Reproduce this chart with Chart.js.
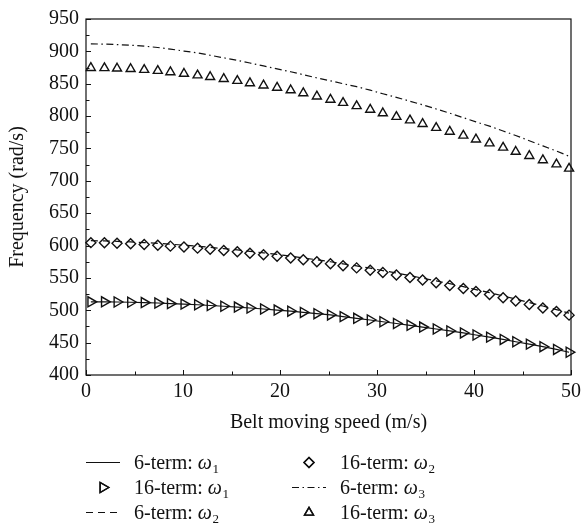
<!DOCTYPE html>
<html>
<head>
<meta charset="utf-8">
<title>Natural frequency vs belt moving speed</title>
<script src="https://cdn.jsdelivr.net/npm/chart.js@4.4.1/dist/chart.umd.min.js"></script>
<style>
  html, body { margin: 0; padding: 0; background: #fff; }
  #wrap { width: 586px; height: 529px; }
</style>
</head>
<body>
<div id="wrap"><canvas id="freqChart" width="586" height="529"></canvas></div>
<script>
// === Data ===
// belt moving speed (m/s) at which the frequencies were computed
const speeds = [
    0.5, 1.9, 3.2, 4.6, 6.0, 7.4, 8.7, 10.1, 11.5, 12.8, 14.2, 15.6, 16.9,
    18.3, 19.7, 21.1, 22.4, 23.8, 25.2, 26.5, 27.9, 29.3, 30.6, 32.0, 33.4,
    34.7, 36.1, 37.5, 38.9, 40.2, 41.6, 43.0, 44.3, 45.7, 47.1, 48.5, 49.8
];

// first mode (rad/s)
const omega1SixTerm = [
    513.0, 513.0, 512.8, 512.4, 511.9, 511.2, 510.4, 509.5, 508.5, 507.4, 506.2, 504.9, 503.5,
    502.0, 500.3, 498.6, 496.7, 494.7, 492.8, 490.2, 487.6, 485.0, 482.3, 479.6, 476.8,
    474.0, 471.1, 468.1, 465.0, 461.8, 458.5, 455.0, 451.4, 447.7, 443.8, 439.5, 435.2
];
const omega1SixteenTerm = [
    513.0, 513.0, 512.8, 512.4, 511.9, 511.2, 510.4, 509.5, 508.5, 507.4, 506.2, 504.9, 503.5,
    502.0, 500.3, 498.6, 496.7, 494.7, 492.8, 490.2, 487.6, 485.0, 482.3, 479.6, 476.8,
    474.0, 471.1, 468.1, 465.0, 461.8, 458.5, 455.0, 451.4, 447.7, 443.8, 439.5, 435.2
];

// second mode (rad/s)
const omega2SixTerm = [
    607.5, 607.2, 606.5, 605.6, 604.6, 603.4, 602.1, 600.6, 599.0, 597.2, 595.3, 593.3, 591.1,
    588.8, 586.3, 583.7, 580.9, 578.0, 575.0, 571.8, 568.5, 565.0, 561.3, 557.6, 553.7,
    549.6, 545.4, 541.1, 536.6, 531.9, 527.2, 522.2, 517.2, 512.0, 506.6, 501.1, 495.5
];
const omega2SixteenTerm = [
    604.5, 604.2, 603.5, 602.6, 601.6, 600.4, 599.1, 597.6, 596.0, 594.2, 592.3, 590.3, 588.1,
    585.8, 583.3, 580.7, 577.9, 575.0, 572.0, 568.8, 565.5, 562.0, 558.3, 554.6, 550.7,
    546.6, 542.4, 538.1, 533.6, 528.9, 524.2, 519.2, 514.2, 509.0, 503.6, 498.1, 492.5
];

// third mode (rad/s)
const omega3SixTerm = [
    911.5, 911.2, 910.5, 909.5, 908.0, 906.0, 903.5, 900.5, 897.5, 894.0, 890.0, 886.0, 882.0,
    877.5, 873.0, 868.5, 864.0, 859.0, 854.5, 850.0, 845.5, 840.0, 834.5, 829.0, 823.0,
    817.5, 811.0, 804.5, 797.5, 791.0, 784.5, 777.0, 770.0, 762.0, 754.0, 746.0, 738.0
];
const omega3SixteenTerm = [
    874.5, 874.2, 873.6, 872.8, 871.5, 870.0, 868.0, 865.5, 863.0, 860.5, 857.5, 854.5, 851.0,
    847.5, 844.0, 840.0, 835.5, 830.5, 825.5, 820.5, 815.5, 810.0, 804.5, 799.0, 793.5,
    788.0, 782.0, 776.0, 770.0, 764.0, 758.0, 751.5, 745.0, 738.5, 732.0, 725.5, 719.0
];

// axis ticks
const xTicks = [0, 10, 20, 30, 40, 50];
const yTicks = [400, 450, 500, 550, 600, 650, 700, 750, 800, 850, 900, 950];

// === Styles ===
const INK = '#111';
const FONT_FAMILY = '"Liberation Serif", "Times New Roman", serif';
const baseFont = { family: FONT_FAMILY, size: 20 };

const toPoints = (values) => speeds.map((x, i) => ({ x: x, y: values[i] }));

// solid / dashed / dash-dot curves (6-term solution)
const lineSeries = (label, values, dash) => ({
    label: label,
    data: toPoints(values),
    showLine: true,
    borderColor: INK,
    borderWidth: 1.2,
    borderDash: dash,
    pointRadius: 0,
    pointHoverRadius: 0,
    fill: false,
    clip: false,
    legendSample: 'line'
});

// open markers (16-term solution)
const markerSeries = (label, values, style, radius, rotation) => ({
    label: label,
    data: toPoints(values),
    showLine: false,
    pointStyle: style,
    pointRadius: radius,
    pointHoverRadius: radius,
    pointRotation: rotation,
    pointBorderWidth: 1.4,
    pointBorderColor: INK,
    pointBackgroundColor: 'rgba(255,255,255,0)',
    clip: false,
    legendSample: 'point'
});

const datasets = [
    lineSeries('6-term|1', omega1SixTerm, []),
    markerSeries('16-term|1', omega1SixteenTerm, 'triangle', 5.8, 90),
    lineSeries('6-term|2', omega2SixTerm, [7, 5]),
    markerSeries('16-term|2', omega2SixteenTerm, 'rectRot', 5, 0),
    lineSeries('6-term|3', omega3SixTerm, [7, 3.5, 1.5, 3.5]),
    markerSeries('16-term|3', omega3SixteenTerm, 'triangle', 5.2, 0)
];

// legend grid: 2 columns x 3 rows, filled column by column
const legendCols = [{ sample: 103, text: 134 }, { sample: 309, text: 340 }];
const legendRows = [468.5, 493.5, 518.5];

/**
 * 枠線と内向きの目盛りを描く
 */
const frameTicksPlugin = {
    id: 'frameTicks',
    afterDraw(chart) {
        const { ctx, chartArea: a, scales } = chart;
        ctx.save();
        ctx.strokeStyle = INK;
        ctx.lineWidth = 1.2;
        ctx.strokeRect(a.left, a.top, a.right - a.left, a.bottom - a.top);

        ctx.lineWidth = 1;
        ctx.beginPath();
        for (let v = 400; v <= 950; v += 25) {
            const y = Math.round(scales.y.getPixelForValue(v)) + 0.5;
            const len = v % 50 === 0 ? 5 : 3.5;
            ctx.moveTo(a.left, y);
            ctx.lineTo(a.left + len, y);
        }
        for (let v = 0; v <= 50; v += 5) {
            const x = Math.round(scales.x.getPixelForValue(v)) + 0.5;
            const len = v % 10 === 0 ? 5 : 3.5;
            ctx.moveTo(x, a.bottom);
            ctx.lineTo(x, a.bottom - len);
        }
        ctx.stroke();
        ctx.restore();
    }
};

/**
 * 凡例（ωに下付き添字）を描く
 */
const legendPlugin = {
    id: 'omegaLegend',
    afterDraw(chart) {
        const { ctx } = chart;
        chart.data.datasets.forEach((ds, i) => {
            const col = legendCols[Math.floor(i / 3)];
            const baseY = legendRows[i % 3];
            const cy = baseY - 6;
            const [prefix, mode] = ds.label.split('|');

            ctx.save();
            ctx.strokeStyle = INK;
            if (ds.legendSample === 'line') {
                ctx.lineWidth = 1.2;
                ctx.setLineDash(ds.borderDash);
                ctx.beginPath();
                ctx.moveTo(col.sample - 17, cy);
                ctx.lineTo(col.sample + 17, cy);
                ctx.stroke();
            } else {
                Chart.helpers.drawPoint(ctx, {
                    pointStyle: ds.pointStyle,
                    radius: ds.pointRadius,
                    rotation: ds.pointRotation,
                    borderWidth: ds.pointBorderWidth
                }, col.sample, cy);
                ctx.lineWidth = ds.pointBorderWidth;
                ctx.stroke();
            }
            ctx.restore();

            ctx.save();
            ctx.fillStyle = INK;
            ctx.textBaseline = 'alphabetic';
            let x = col.text;
            ctx.font = `20px ${FONT_FAMILY}`;
            const head = prefix + ': ';
            ctx.fillText(head, x, baseY);
            x += ctx.measureText(head).width;
            ctx.font = `italic 20px ${FONT_FAMILY}`;
            ctx.fillText('ω', x, baseY);
            x += ctx.measureText('ω').width + 0.5;
            ctx.font = `13px ${FONT_FAMILY}`;
            ctx.fillText(mode, x, baseY + 4.5);
            ctx.restore();
        });
    }
};

const ctx = document.getElementById('freqChart').getContext('2d');
const freqChart = new Chart(ctx, {
    type: 'scatter',
    data: { datasets: datasets },
    options: {
        responsive: false,
        animation: false,
        devicePixelRatio: 1,
        layout: { padding: { top: 10, right: 11, bottom: 94, left: 0 } },
        plugins: {
            legend: { display: false },
            tooltip: { enabled: false }
        },
        scales: {
            x: {
                type: 'linear',
                min: 0,
                max: 50,
                afterBuildTicks: (scale) => { scale.ticks = xTicks.map(v => ({ value: v })); },
                afterFit: (scale) => { scale.height = 60; },
                ticks: { color: INK, font: baseFont, padding: 5, maxRotation: 0 },
                grid: { display: false, drawTicks: false },
                border: { display: false },
                title: {
                    display: true,
                    text: 'Belt moving speed (m/s)',
                    color: INK,
                    font: baseFont,
                    padding: { top: 0, bottom: 0 }
                }
            },
            y: {
                type: 'linear',
                min: 400,
                max: 950,
                afterBuildTicks: (scale) => { scale.ticks = yTicks.map(v => ({ value: v })); },
                afterFit: (scale) => { scale.width = 86; },
                ticks: { color: INK, font: baseFont, padding: 7 },
                grid: { display: false, drawTicks: false },
                border: { display: false },
                title: {
                    display: true,
                    text: 'Frequency (rad/s)',
                    color: INK,
                    font: baseFont,
                    padding: { top: 6, bottom: 0 }
                }
            }
        }
    },
    plugins: [frameTicksPlugin, legendPlugin]
});
</script>
</body>
</html>
